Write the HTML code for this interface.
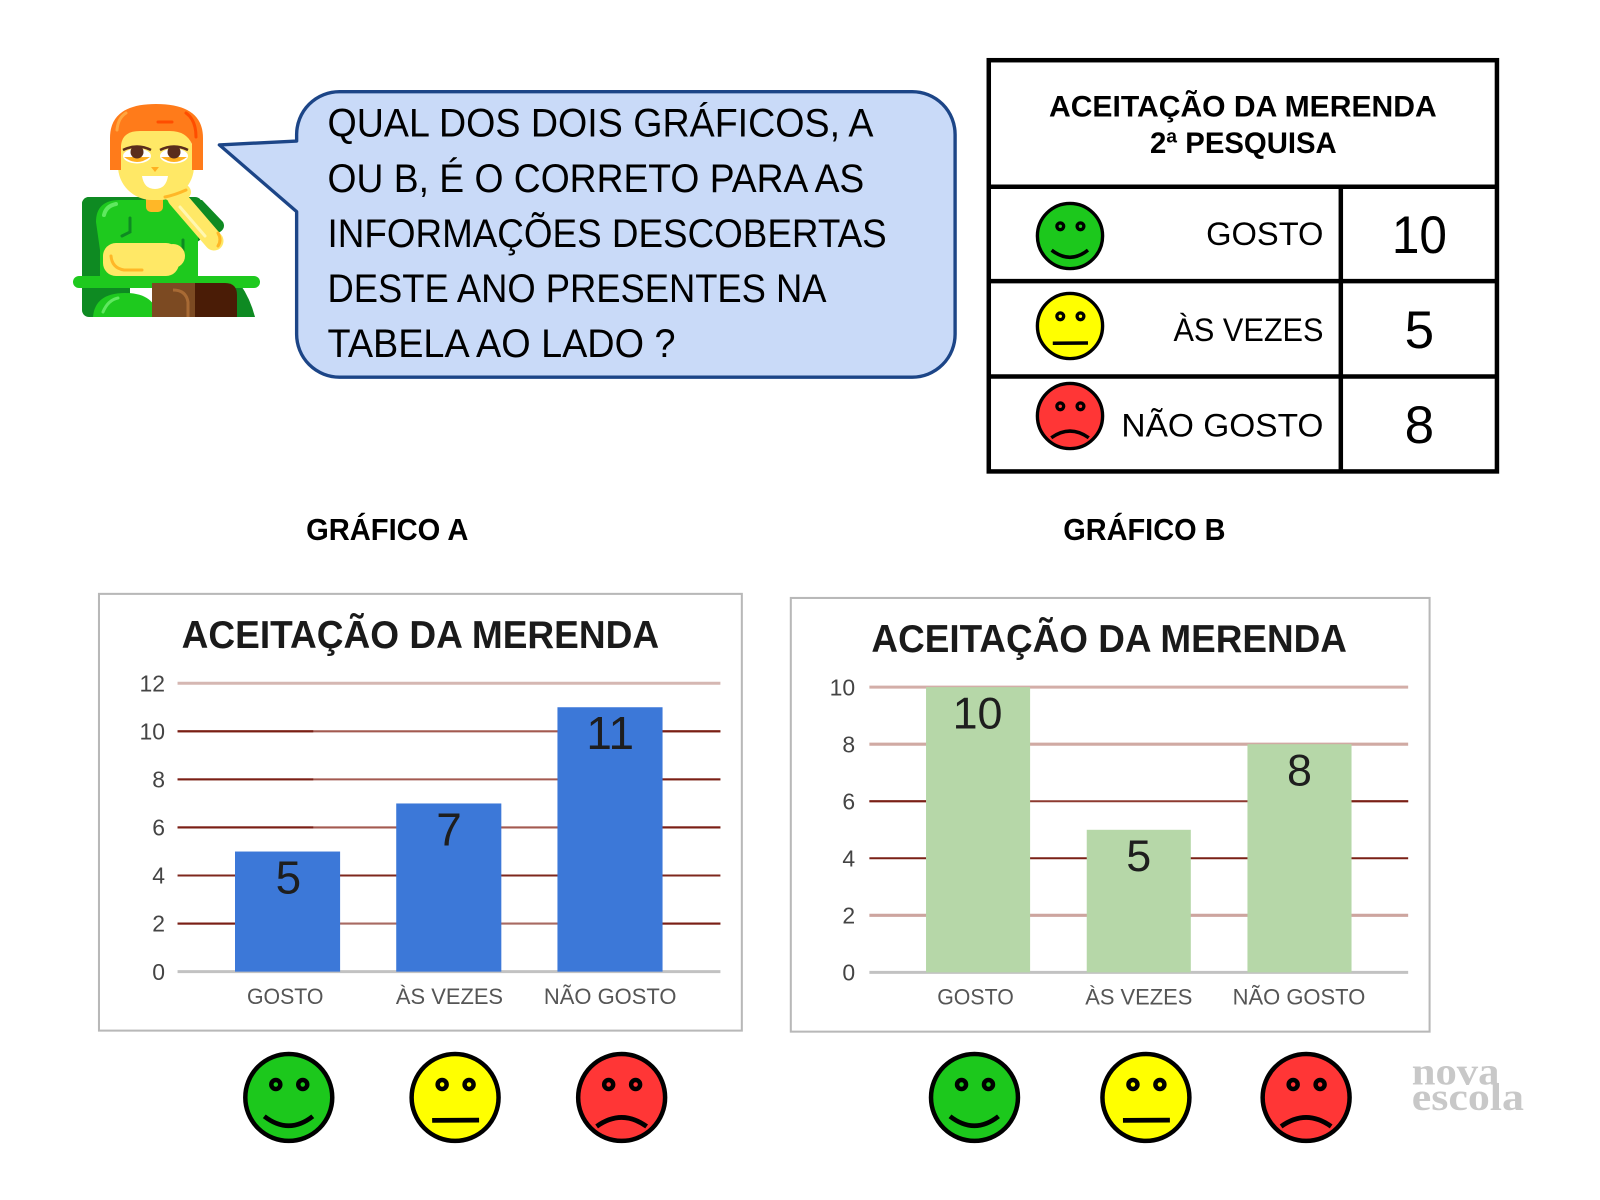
<!DOCTYPE html>
<html>
<head>
<meta charset="utf-8">
<style>
  html,body{margin:0;padding:0;background:#fff;}
  body{width:1600px;height:1200px;overflow:hidden;}
  svg{display:block;}
  text{font-family:"Liberation Sans", "DejaVu Sans", sans-serif;}
</style>
</head>
<body>
<svg width="1600" height="1200" viewBox="0 0 1568 1176" xmlns="http://www.w3.org/2000/svg">
  <defs>
    <g id="happy">
      <circle r="42.6" fill="#1cc81c" stroke="#000" stroke-width="4.4"/>
      <circle cx="-12.7" cy="-12.7" r="4.4" fill="#1cc81c" stroke="#000" stroke-width="4.4"/>
      <circle cx="13.7" cy="-12.7" r="4.4" fill="#1cc81c" stroke="#000" stroke-width="4.4"/>
      <path d="M -24 18.5 Q 0 37 23.5 18.5" fill="none" stroke="#000" stroke-width="4.6"/>
    </g>
    <g id="neutral">
      <circle r="42.6" fill="#ffff00" stroke="#000" stroke-width="4.4"/>
      <circle cx="-12.7" cy="-12.7" r="4.4" fill="#ffff00" stroke="#000" stroke-width="4.4"/>
      <circle cx="13.7" cy="-12.7" r="4.4" fill="#ffff00" stroke="#000" stroke-width="4.4"/>
      <path d="M -22.5 22.5 L 23.5 22.2" fill="none" stroke="#000" stroke-width="4.6"/>
    </g>
    <g id="sad">
      <circle r="42.6" fill="#ff3636" stroke="#000" stroke-width="4.4"/>
      <circle cx="-12.7" cy="-12.7" r="4.4" fill="#ff3636" stroke="#000" stroke-width="4.4"/>
      <circle cx="13.7" cy="-12.7" r="4.4" fill="#ff3636" stroke="#000" stroke-width="4.4"/>
      <path d="M -24.5 28.4 Q 0 10.8 24.5 28.4" fill="none" stroke="#000" stroke-width="4.6"/>
    </g>
  </defs>

  <rect x="0" y="0" width="1568" height="1176" fill="#fff"/>

  <!-- ============ CHARACTER (true coords scaled) ============ -->
  <g transform="scale(0.98)">
    <rect x="82" y="197" width="48" height="120" rx="7" fill="#0e8a22"/>
    <rect x="82" y="197" width="120" height="45" rx="7" fill="#0e8a22"/>
    <path d="M 186 200 L 202 200 L 223 222 Q 226 228 220 232 L 196 240 Z" fill="#0e8a22"/>
    <path d="M 200 284 L 240 284 Q 250 298 255 317 L 200 317 Z" fill="#0e8a22"/>
    <path d="M 93 317 Q 95 293 125 293 Q 155 293 158 317 Z" fill="#1ec91e"/>
    <path d="M 103 312 Q 108 300 118 298" fill="none" stroke="#5fe85f" stroke-width="3" stroke-linecap="round"/>
    <path d="M 96 222 Q 96 200 120 200 L 180 200 Q 198 200 198 218 L 198 283 L 100 283 L 100 250 Z" fill="#1ec91e"/>
    <path d="M 104 215 Q 106 206 116 204" fill="none" stroke="#5fe85f" stroke-width="4" stroke-linecap="round"/>
    <path d="M 130 218 L 130 232 L 122 236" fill="none" stroke="#0e8a22" stroke-width="3" stroke-linecap="round"/>
    <path d="M 183 240 L 183 250" fill="none" stroke="#0e8a22" stroke-width="3" stroke-linecap="round"/>
    <rect x="103" y="243" width="76" height="33" rx="13" fill="#ffe866"/>
    <path d="M 111 256 Q 112 268 124 270 L 142 270" fill="none" stroke="#ffb727" stroke-width="3" stroke-linecap="round"/>
    <circle cx="173" cy="256" r="12" fill="#ffe866"/>
    <rect x="73" y="276" width="187" height="12" rx="6" fill="#1ec91e"/>
    <rect x="152" y="283" width="55" height="34" fill="#7c4a22"/>
    <path d="M 195 283 L 225 283 Q 237 283 237 295 L 237 317 L 195 317 Z" fill="#4a1c06"/>
    <path d="M 173 290 Q 186 290 188 302 L 188 317" fill="none" stroke="#a86a34" stroke-width="3"/>
    <rect x="146" y="193" width="17" height="19" rx="5" fill="#ffb727"/>
    <line x1="177" y1="198" x2="214" y2="241" stroke="#ffe866" stroke-width="19" stroke-linecap="round"/>
    <line x1="180" y1="207" x2="205" y2="236" stroke="#fff7b0" stroke-width="3" stroke-linecap="round"/>
    <path d="M 218 233 Q 222 240 218 246" fill="none" stroke="#ffb727" stroke-width="3" stroke-linecap="round"/>
    <rect x="118" y="122" width="76" height="78" rx="34" fill="#ffe866"/>
    <ellipse cx="176" cy="192" rx="15" ry="10" fill="#ffe866"/>
    <path d="M 165 197 Q 175 195 186 190" fill="none" stroke="#ffb727" stroke-width="3" stroke-linecap="round"/>
    <path d="M 110 170 L 110 138 Q 110 104 156 104 Q 203 104 203 138 L 203 170 L 192 170 L 192 144 Q 186 131 170 131 L 140 131 Q 122 131 121 146 L 121 170 Z" fill="#ff7b1a"/>
    <path d="M 158 122 L 172 122" stroke="#ff4d00" stroke-width="3" stroke-linecap="round"/>
    <path d="M 186 113 Q 196 120 196 137" fill="none" stroke="#ff4d00" stroke-width="3" stroke-linecap="round"/>
    <path d="M 117 130 Q 118 118 126 113" fill="none" stroke="#ffa640" stroke-width="3" stroke-linecap="round"/>
    <ellipse cx="137" cy="156" rx="14" ry="7.5" fill="#fff"/>
    <ellipse cx="174" cy="156" rx="14" ry="7.5" fill="#fff"/>
    <path d="M 124 157 Q 137 167 150 157 Z" fill="#ffb020"/>
    <path d="M 161 157 Q 174 167 187 157 Z" fill="#ffb020"/>
    <circle cx="137" cy="152" r="6.5" fill="#5a2d1c"/>
    <circle cx="174" cy="152" r="6.5" fill="#5a2d1c"/>
    <path d="M 123 150 Q 137 143 151 150" fill="none" stroke="#5a2d1c" stroke-width="2.5"/>
    <path d="M 160 150 Q 174 143 188 150" fill="none" stroke="#5a2d1c" stroke-width="2.5"/>
    <path d="M 151 167 L 159 167 L 155 172 Z" fill="#ffb020"/>
    <path d="M 142 176 L 168 176 Q 166 189 155 189 Q 144 189 142 176 Z" fill="#fff"/>
  </g>

  <!-- ============ SPEECH BUBBLE ============ -->
  <path d="M 333 89.8 H 894 A 42 42 0 0 1 936 131.8 V 327.6 A 42 42 0 0 1 894 369.6 H 332.7 A 42 42 0 0 1 290.7 327.6 V 207.4 L 215 142 L 290.7 138.2 V 131.8 A 42 42 0 0 1 332.7 89.8 Z"
        fill="#c9daf8" stroke="#1c4587" stroke-width="3.3" stroke-linejoin="round"/>
  <g font-size="39" fill="#000">
    <text x="321" y="134" textLength="535" lengthAdjust="spacingAndGlyphs">QUAL DOS DOIS GRÁFICOS, A</text>
    <text x="321" y="188" textLength="526" lengthAdjust="spacingAndGlyphs">OU B, É O CORRETO PARA AS</text>
    <text x="321" y="242" textLength="548" lengthAdjust="spacingAndGlyphs">INFORMAÇÕES DESCOBERTAS</text>
    <text x="321" y="296" textLength="489" lengthAdjust="spacingAndGlyphs">DESTE ANO PRESENTES NA</text>
    <text x="321" y="350" textLength="341" lengthAdjust="spacingAndGlyphs">TABELA AO LADO ?</text>
  </g>

  <!-- ============ TABLE ============ -->
  <g stroke="#000" stroke-width="4.4" fill="none">
    <rect x="969" y="59" width="498" height="403"/>
    <line x1="969" y1="183" x2="1467" y2="183"/>
    <line x1="969" y1="275.5" x2="1467" y2="275.5"/>
    <line x1="969" y1="369" x2="1467" y2="369"/>
    <line x1="1314" y1="183" x2="1314" y2="462"/>
  </g>
  <g font-weight="bold" font-size="29" fill="#000">
    <text x="1028" y="114" textLength="380" lengthAdjust="spacingAndGlyphs">ACEITAÇÃO DA MERENDA</text>
    <text x="1127" y="150" textLength="183" lengthAdjust="spacingAndGlyphs">2ª PESQUISA</text>
  </g>
  <g font-size="32" fill="#000">
    <text x="1182" y="240" textLength="115" lengthAdjust="spacingAndGlyphs">GOSTO</text>
    <text x="1150" y="334" textLength="147" lengthAdjust="spacingAndGlyphs">ÀS VEZES</text>
    <text x="1099" y="428" textLength="198" lengthAdjust="spacingAndGlyphs">NÃO GOSTO</text>
  </g>
  <g font-size="52" fill="#000">
    <text x="1364" y="248" textLength="54" lengthAdjust="spacingAndGlyphs">10</text>
    <text x="1391" y="341" text-anchor="middle">5</text>
    <text x="1391" y="434" text-anchor="middle">8</text>
  </g>
  <use href="#happy" transform="translate(1048.6,231.3) scale(0.75)"/>
  <use href="#neutral" transform="translate(1048.6,319.5) scale(0.75)"/>
  <use href="#sad" transform="translate(1048.6,407.7) scale(0.75)"/>

  <!-- ============ GRAPH HEADINGS ============ -->
  <g font-weight="bold" font-size="30" fill="#000">
    <text x="300" y="529" textLength="159" lengthAdjust="spacingAndGlyphs">GRÁFICO A</text>
    <text x="1042" y="529" textLength="159" lengthAdjust="spacingAndGlyphs">GRÁFICO B</text>
  </g>

  <!-- ============ CHART A ============ -->
  <rect x="97" y="582" width="630" height="428" fill="#fff" stroke="#b8b8b8" stroke-width="2"/>
  <text x="178" y="635" font-size="38" font-weight="bold" fill="#1a1a1a" textLength="468" lengthAdjust="spacingAndGlyphs">ACEITAÇÃO DA MERENDA</text>
  <line x1="174" y1="669.6" x2="706" y2="669.6" stroke="#d5b7b2" stroke-width="3"/>
  <g stroke-width="2">
    <line x1="174" y1="716.7" x2="706" y2="716.7" stroke="#a35a50"/>
    <line x1="174" y1="716.7" x2="307" y2="716.7" stroke="#7a1f15"/>
    <line x1="649" y1="716.7" x2="706" y2="716.7" stroke="#7a1f15"/>
    <line x1="174" y1="763.8" x2="706" y2="763.8" stroke="#a35a50"/>
    <line x1="174" y1="763.8" x2="307" y2="763.8" stroke="#7a1f15"/>
    <line x1="649" y1="763.8" x2="706" y2="763.8" stroke="#7a1f15"/>
    <line x1="174" y1="810.9" x2="706" y2="810.9" stroke="#a35a50"/>
    <line x1="174" y1="810.9" x2="307" y2="810.9" stroke="#7a1f15"/>
    <line x1="649" y1="810.9" x2="706" y2="810.9" stroke="#7a1f15"/>
    <line x1="174" y1="858" x2="706" y2="858" stroke="#7e271d"/>
    <line x1="174" y1="905.1" x2="706" y2="905.1" stroke="#a86a62"/>
    <line x1="174" y1="905.1" x2="231" y2="905.1" stroke="#7a1f15"/>
    <line x1="649" y1="905.1" x2="706" y2="905.1" stroke="#7a1f15"/>
  </g>
  <line x1="174" y1="952.2" x2="706" y2="952.2" stroke="#c2c2c2" stroke-width="3"/>
  <rect x="230.3" y="834.5" width="103" height="117.7" fill="#3c78d8"/>
  <rect x="388.3" y="787.4" width="103" height="164.8" fill="#3c78d8"/>
  <rect x="546.3" y="693.1" width="103" height="259.1" fill="#3c78d8"/>
  <g font-size="45" fill="#1e1e1e" text-anchor="middle">
    <text x="282.6" y="875.5">5</text>
    <text x="440" y="828.4">7</text>
    <text x="598" y="734">11</text>
  </g>
  <g font-size="22.5" fill="#444" text-anchor="end">
    <text x="161.7" y="677.6">12</text>
    <text x="161.7" y="724.7">10</text>
    <text x="161.7" y="771.8">8</text>
    <text x="161.7" y="818.9">6</text>
    <text x="161.7" y="866">4</text>
    <text x="161.7" y="913.1">2</text>
    <text x="161.7" y="960.2">0</text>
  </g>
  <g font-size="21.5" fill="#555" text-anchor="middle">
    <text x="279.5" y="984" textLength="75" lengthAdjust="spacingAndGlyphs">GOSTO</text>
    <text x="440.5" y="984" textLength="105" lengthAdjust="spacingAndGlyphs">ÀS VEZES</text>
    <text x="598" y="984" textLength="130" lengthAdjust="spacingAndGlyphs">NÃO GOSTO</text>
  </g>

  <!-- ============ CHART B ============ -->
  <rect x="775" y="586" width="626" height="425" fill="#fff" stroke="#b8b8b8" stroke-width="2"/>
  <text x="854" y="639" font-size="38" font-weight="bold" fill="#1a1a1a" textLength="466" lengthAdjust="spacingAndGlyphs">ACEITAÇÃO DA MERENDA</text>
  <line x1="852" y1="673.4" x2="1380" y2="673.4" stroke="#d3aea8" stroke-width="3"/>
  <line x1="852" y1="729.3" x2="1380" y2="729.3" stroke="#d0aaa3" stroke-width="3"/>
  <line x1="852" y1="785.2" x2="1380" y2="785.2" stroke="#8d3a30" stroke-width="2"/>
  <line x1="852" y1="785.2" x2="908" y2="785.2" stroke="#7a2016" stroke-width="2"/>
  <line x1="1324" y1="785.2" x2="1380" y2="785.2" stroke="#7a2016" stroke-width="2"/>
  <line x1="852" y1="841.1" x2="1380" y2="841.1" stroke="#7a2016" stroke-width="2"/>
  <line x1="852" y1="897" x2="1380" y2="897" stroke="#cda59f" stroke-width="3"/>
  <line x1="852" y1="952.9" x2="1380" y2="952.9" stroke="#c2c2c2" stroke-width="3"/>
  <rect x="907.5" y="673.4" width="102" height="279.5" fill="#b6d7a8"/>
  <rect x="1065" y="813.2" width="102" height="139.7" fill="#b6d7a8"/>
  <rect x="1222.5" y="729.3" width="102" height="223.6" fill="#b6d7a8"/>
  <g font-size="44" fill="#1e1e1e" text-anchor="middle">
    <text x="958" y="713.8">10</text>
    <text x="1116" y="853.6">5</text>
    <text x="1273.5" y="769.7">8</text>
  </g>
  <g font-size="22.5" fill="#444" text-anchor="end">
    <text x="838" y="681.4">10</text>
    <text x="838" y="737.3">8</text>
    <text x="838" y="793.2">6</text>
    <text x="838" y="849.1">4</text>
    <text x="838" y="905">2</text>
    <text x="838" y="960.9">0</text>
  </g>
  <g font-size="21.5" fill="#555" text-anchor="middle">
    <text x="956" y="984.5" textLength="75" lengthAdjust="spacingAndGlyphs">GOSTO</text>
    <text x="1116" y="984.5" textLength="105" lengthAdjust="spacingAndGlyphs">ÀS VEZES</text>
    <text x="1273" y="984.5" textLength="130" lengthAdjust="spacingAndGlyphs">NÃO GOSTO</text>
  </g>

  <!-- ============ SMILEYS BELOW ============ -->
  <use href="#happy" transform="translate(283,1075.5)"/>
  <use href="#neutral" transform="translate(446,1075.5)"/>
  <use href="#sad" transform="translate(609.2,1075.5)"/>
  <use href="#happy" transform="translate(955,1075.5)"/>
  <use href="#neutral" transform="translate(1123,1075.5)"/>
  <use href="#sad" transform="translate(1280,1075.5)"/>

  <!-- ============ LOGO ============ -->
  <g font-weight="bold" font-size="38" fill="#c8c8c8">
    <text x="1383.5" y="1063" textLength="86" lengthAdjust="spacingAndGlyphs" style="font-family:'Liberation Serif',serif">nova</text>
    <text x="1383.5" y="1088" textLength="110" lengthAdjust="spacingAndGlyphs" style="font-family:'Liberation Serif',serif">escola</text>
  </g>
</svg>
</body>
</html>
